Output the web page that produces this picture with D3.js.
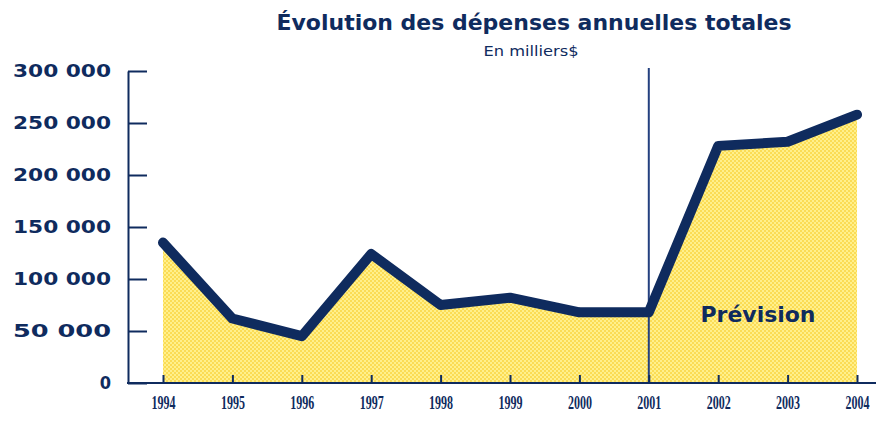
<!DOCTYPE html>
<html>
<head>
<meta charset="utf-8">
<script src="https://cdn.jsdelivr.net/npm/d3@7"></script>
<style>
  body { margin: 0; background: #fff; }
  svg { display: block; }
</style>
</head>
<body>
<div id="chart"></div>
<script>
const w = 876, h = 431;

// data
const years = ["1994", "1995", "1996", "1997", "1998", "1999", "2000", "2001", "2002", "2003", "2004"];
const depenses = [135000, 62000, 45000, 124000, 75000, 82000, 68000, 68000, 228000, 232000, 258000];
const yTicks = [0, 50000, 100000, 150000, 200000, 250000, 300000];
const titre = "Évolution des dépenses annuelles totales";
const sousTitre = "En milliers$";
const prevision = "Prévision";
const debutPrevision = "2001";

const navy = "#0f2b5e";

const data = years.map((d, i) => ({year: d, value: depenses[i]}));

const svg = d3.select("#chart")
    .append("svg")
    .attr("width", w)
    .attr("height", h)
    .attr("viewBox", [0, 0, w, h]);

// dithered yellow fill
const defs = svg.append("defs");
const pat = defs.append("pattern")
    .attr("id", "jaune")
    .attr("width", 4).attr("height", 4)
    .attr("patternUnits", "userSpaceOnUse");
pat.append("rect").attr("width", 4).attr("height", 4).attr("fill", "#fbdc55");
pat.append("rect").attr("x", 0).attr("y", 0).attr("width", 2).attr("height", 2).attr("fill", "#fff08c");
pat.append("rect").attr("x", 2).attr("y", 2).attr("width", 2).attr("height", 2).attr("fill", "#fff08c");

let x = d3.scalePoint(years, [163, 857]);
let y = d3.scaleLinear([0, 300000], [383, 71]);

// area under the curve
const area = d3.area()
    .x(d => x(d.year))
    .y0(y(0))
    .y1(d => y(d.value));

svg.append("path")
    .datum(data)
    .attr("d", area)
    .attr("fill", "url(#jaune)");

// forecast separator
svg.append("line")
    .attr("x1", x(debutPrevision)).attr("x2", x(debutPrevision))
    .attr("y1", 68).attr("y2", y(0))
    .attr("stroke", "#24407f")
    .attr("stroke-width", 2);

// y axis
const fmt = d => d === 0 ? "0" : d3.format(",")(d).replace(",", " ");
const gy = svg.append("g")
    .attr("transform", `translate(128,0)`)
    .call(d3.axisLeft(y).tickValues(yTicks).tickFormat(fmt).tickSize(-19).tickSizeOuter(0).tickPadding(17));
gy.select(".domain").attr("stroke", navy).attr("stroke-width", 2);
gy.selectAll(".tick line").attr("stroke", navy).attr("stroke-width", 2);
gy.selectAll(".tick text")
    .attr("fill", navy)
    .attr("font-family", "'DejaVu Sans Condensed', 'DejaVu Sans', sans-serif")
    .attr("font-weight", "bold")
    .attr("font-size", 18)
    .attr("textLength", d => d === 0 ? null : 98)
    .attr("lengthAdjust", "spacingAndGlyphs");

// x axis
const gx = svg.append("g")
    .attr("transform", `translate(0,${y(0)})`)
    .call(d3.axisBottom(x).tickSize(-8).tickSizeOuter(0).tickPadding(13));
gx.select(".domain").remove();
gx.append("line")
    .attr("x1", 127).attr("x2", w)
    .attr("stroke", navy).attr("stroke-width", 2);
gx.selectAll(".tick line").attr("stroke", navy).attr("stroke-width", 2);
gx.selectAll(".tick text")
    .attr("fill", navy)
    .attr("font-family", "'Liberation Serif', serif")
    .attr("font-weight", "bold")
    .attr("font-size", 19)
    .attr("textLength", 24)
    .attr("lengthAdjust", "spacingAndGlyphs");

// the thick line
const line = d3.line()
    .x(d => x(d.year))
    .y(d => y(d.value));

svg.append("path")
    .datum(data)
    .attr("d", line)
    .attr("fill", "none")
    .attr("stroke", navy)
    .attr("stroke-width", 10)
    .attr("stroke-linejoin", "round")
    .attr("stroke-linecap", "round");

// titles
svg.append("text")
    .attr("x", 534).attr("y", 30)
    .attr("text-anchor", "middle")
    .attr("fill", navy)
    .attr("font-family", "'DejaVu Sans Condensed', 'DejaVu Sans', sans-serif")
    .attr("font-weight", "bold")
    .attr("font-size", 22)
    .attr("textLength", 515)
    .attr("lengthAdjust", "spacingAndGlyphs")
    .text(titre);

svg.append("text")
    .attr("x", 531).attr("y", 56)
    .attr("text-anchor", "middle")
    .attr("fill", navy)
    .attr("font-family", "'DejaVu Sans Condensed', 'DejaVu Sans', sans-serif")
    .attr("font-size", 14)
    .attr("textLength", 95)
    .attr("lengthAdjust", "spacingAndGlyphs")
    .text(sousTitre);

svg.append("text")
    .attr("x", 758).attr("y", 322)
    .attr("text-anchor", "middle")
    .attr("fill", navy)
    .attr("font-family", "'DejaVu Sans Condensed', 'DejaVu Sans', sans-serif")
    .attr("font-weight", "bold")
    .attr("font-size", 21)
    .attr("textLength", 115)
    .attr("lengthAdjust", "spacingAndGlyphs")
    .text(prevision);
</script>
</body>
</html>
